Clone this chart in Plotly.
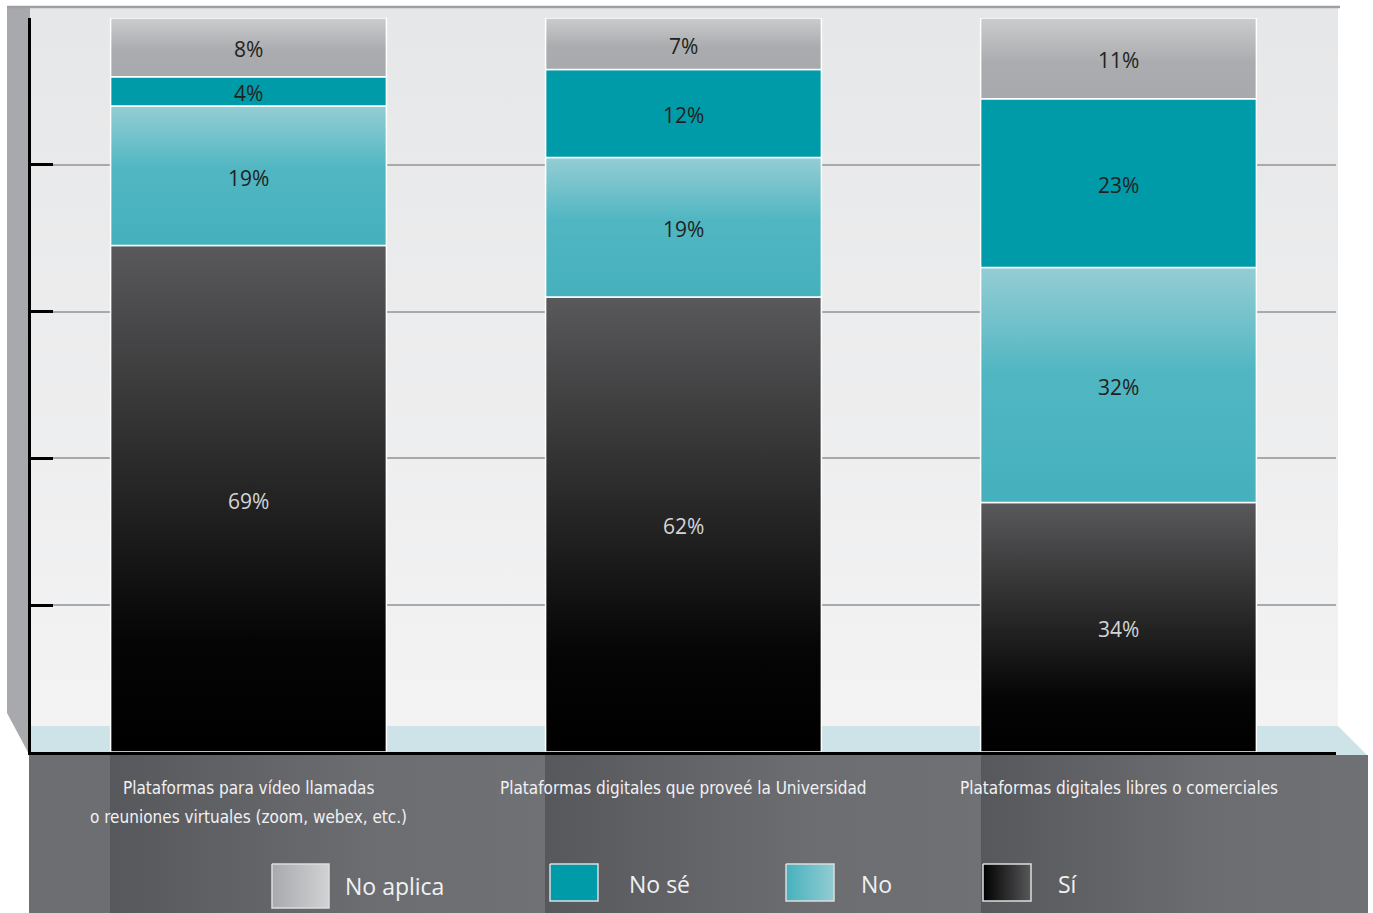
import plotly.graph_objects as go

# ---------------- data ----------------
categories = [
    "Plataformas para vídeo llamadas<br>o reuniones virtuales (zoom, webex, etc.)",
    "Plataformas digitales que proveé la Universidad",
    "Plataformas digitales libres o comerciales",
]
series_names = ["Sí", "No", "No sé", "No aplica"]
si_values = [69, 62, 34]
no_values = [19, 19, 32]
no_se_values = [4, 12, 23]
no_aplica_values = [8, 7, 11]
y_ticks = [0, 20, 40, 60, 80, 100]

series_values = [si_values, no_values, no_se_values, no_aplica_values]

# ---------------- styles ----------------
W, H = 1373, 913
BAR_WIDTH = 0.634
seg_gradients = [
    [[0, "#000000"], [0.22, "#050505"], [1, "#59595b"]],      # Sí
    [[0, "#45b1bd"], [0.55, "#50b6c2"], [1, "#95cdd4"]],      # No
    [[0, "#009ba9"], [1, "#009ba9"]],                         # No sé
    [[0, "#a7a9ac"], [0.45, "#aaacaf"], [1, "#cbcccd"]],      # No aplica
]
text_colors = ["#d4d5d6", "#231f20", "#231f20", "#231f20"]
legend_gradients = [
    [[0, "#000000"], [1, "#58585a"]],
    [[0, "#45b1bd"], [1, "#93ccd3"]],
    [[0, "#009ba9"], [1, "#009ba9"]],
    [[0, "#a7a9ac"], [1, "#d1d2d4"]],
]
# legend box geometry in page pixels (x0, x1, y0, y1), label x, label y
legend_boxes = {
    "No aplica": (272, 329, 864, 908, 343, 886),
    "No sé": (550, 598, 864, 901, 627, 884),
    "No": (786, 834, 864, 901, 859, 884),
    "Sí": (983, 1031, 864, 901, 1056, 884),
}
CAT_FONT = dict(family="Liberation Sans Narrow, DejaVu Sans Condensed, Arial Narrow, sans-serif",
                size=17, color="#f1f1f2")
PCT_FONT = "Open Sans, Noto Sans, sans-serif"

fig = go.Figure()


def deco(xs, ys, **kw):
    fig.add_trace(go.Scatter(
        x=list(xs) + [xs[0]], y=list(ys) + [ys[0]], mode="lines", fill="toself",
        xaxis="x", yaxis="y", hoverinfo="skip", showlegend=False, **kw))


# ---------------- decorative 3D frame (page-pixel axis) ----------------
deco([29, 1338, 1338, 29], [7, 7, 727, 727], line=dict(width=0),
     fillgradient=dict(type="vertical", colorscale=[[0, "#e6e7e8"], [1, "#f3f3f4"]],
                       start=7, stop=727))
deco([7, 30, 30, 7], [7, 7, 756, 713], line=dict(width=0), fillcolor="#a7a9ac")
deco([30, 1338, 1367, 30], [726, 726, 755, 755], line=dict(width=0), fillcolor="#cde3e7")
fig.add_trace(go.Scatter(x=[7, 1340], y=[7, 7], mode="lines", line=dict(color="#9d9fa2", width=2.5),
                         xaxis="x", yaxis="y", hoverinfo="skip", showlegend=False))
deco([29, 1368, 1368, 29], [755, 755, 913, 913], line=dict(width=0), fillcolor="#6d6e72")
shadow_edges = [110, 545, 981, 1368]
for l, r in zip(shadow_edges[:-1], shadow_edges[1:]):
    deco([l, r, r, l], [755, 755, 913, 913], line=dict(width=0),
         fillgradient=dict(type="horizontal",
                           colorscale=[[0, "#57585c"], [0.6, "#6c6d71"], [1, "#707175"]],
                           start=l, stop=r))

# legend
for k, name in enumerate(series_names):
    x0, x1, y0, y1, tx, ty = legend_boxes[name]
    deco([x0, x1, x1, x0], [y0, y0, y1, y1], line=dict(color="#dcddde", width=1.5),
         fillgradient=dict(type="horizontal", colorscale=legend_gradients[k], start=x0, stop=x1))
    fig.add_annotation(x=tx, y=ty, xref="x", yref="y", text=name, showarrow=False,
                       xanchor="left", yanchor="middle",
                       font=dict(family=PCT_FONT, size=23, color="#f1f1f2"))

# ---------------- stacked bars (chart axes) ----------------
for s, vals in enumerate(series_values):
    for i, v in enumerate(vals):
        base = sum(series_values[t][i] for t in range(s))
        top = base + v
        xl, xr = i - BAR_WIDTH / 2, i + BAR_WIDTH / 2
        fig.add_trace(go.Scatter(
            x=[xl, xr, xr, xl, xl], y=[base, base, top, top, base],
            mode="lines", fill="toself", line=dict(color="#ffffff", width=1.5),
            fillgradient=dict(type="vertical", colorscale=seg_gradients[s], start=base, stop=top),
            xaxis="x2", yaxis="y2", name=series_names[s], showlegend=False,
            hovertemplate=f"{series_names[s]}: {v}%<extra></extra>"))
        fig.add_annotation(x=i, y=base + v / 2, xref="x2", yref="y2", text=f"{v}%",
                           showarrow=False, xanchor="center", yanchor="middle", yshift=-2,
                           font=dict(family=PCT_FONT, size=21, color=text_colors[s]))

# category labels (one annotation per text line)
for i, cat in enumerate(categories):
    for j, line in enumerate(cat.split("<br>")):
        fig.add_annotation(x=i, y=788 + 29 * j, xref="x2", yref="y", text=line, showarrow=False,
                           xanchor="center", yanchor="middle", font=CAT_FONT)

fig.update_layout(
    width=W, height=H, margin=dict(l=0, r=0, t=0, b=0),
    paper_bgcolor="#ffffff", plot_bgcolor="rgba(0,0,0,0)",
    showlegend=False,
    xaxis=dict(domain=[0, 1], range=[0, W], visible=False, fixedrange=True),
    yaxis=dict(domain=[0, 1], range=[H, 0], visible=False, fixedrange=True),
    xaxis2=dict(domain=[31 / W, 1336 / W], range=[-0.5, 2.5], anchor="y2",
                showline=True, linecolor="#000000", linewidth=2.5,
                showgrid=False, zeroline=False, showticklabels=False, ticks="", fixedrange=True),
    yaxis2=dict(domain=[(H - 752) / H, (H - 18) / H], range=[0, 100], anchor="x2",
                showline=True, linecolor="#000000", linewidth=2.5,
                tickmode="array", tickvals=y_ticks, ticks="inside", ticklen=22,
                tickwidth=2.5, tickcolor="#000000", showticklabels=False,
                showgrid=True, gridcolor="#a7a9ac", gridwidth=1.5, zeroline=False, fixedrange=True),
)

fig.write_html("out.html", config={"displayModeBar": False},
               post_script="document.body.style.margin='0';")
